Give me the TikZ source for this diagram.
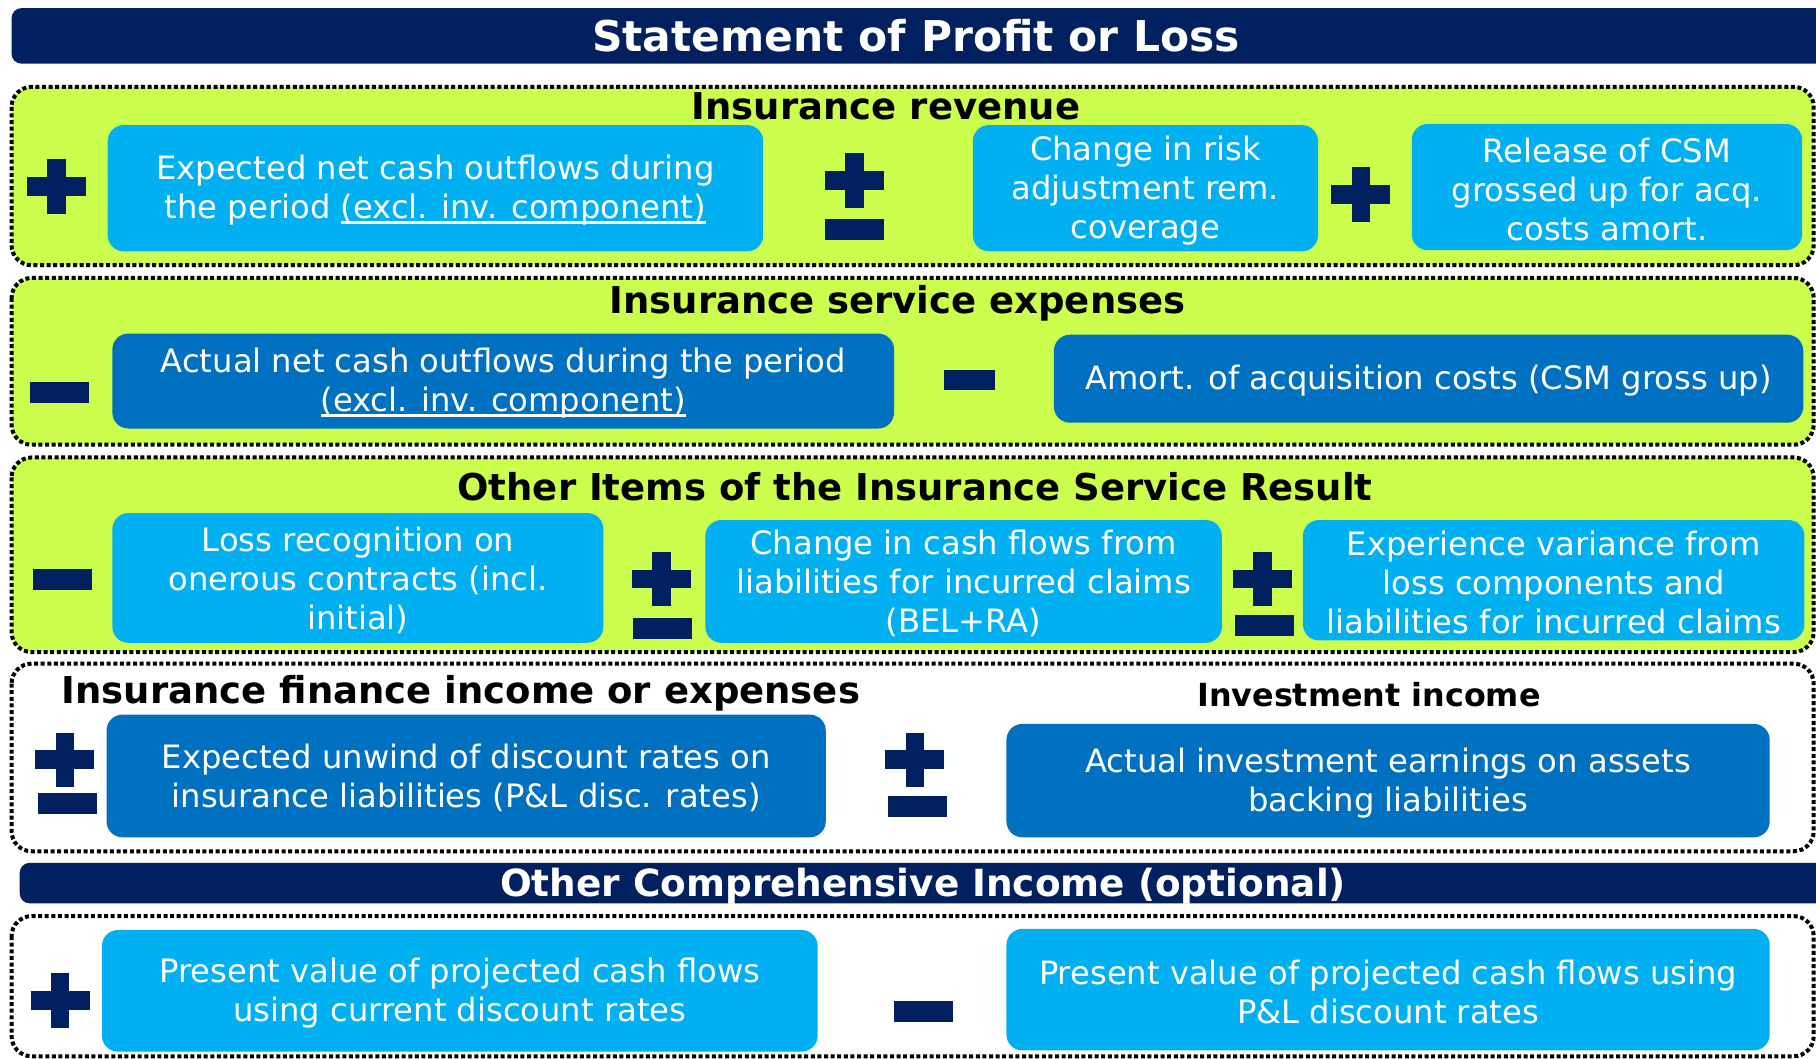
\documentclass[tikz,border=0pt]{standalone}
\usepackage{fontspec}
\setmainfont{DejaVu Sans}
\definecolor{navy}{HTML}{002060}
\definecolor{lblue}{HTML}{00B0F0}
\definecolor{dblue}{HTML}{0070C0}
\definecolor{lime}{HTML}{CCFF4D}
\newdimen\pu \pu=0.5791pt
\newcommand{\boxfont}{\fontsize{16.1}{19.4}\selectfont}
\newcommand{\hdrfont}{\fontsize{18.5}{22}\selectfont\bfseries}
\newcommand{\ulx}[1]{\setbox0=\hbox{#1}\rlap{\rule[-2.6pt]{\wd0}{1.3pt}}\box0}
\newcommand{\lowr}{\rule{0pt}{14.5pt}}
\begin{document}
\begin{tikzpicture}[x=0.5791pt,y=-0.5791pt,
  sect/.style={draw=black, line width=2pt, dash pattern=on 2pt off 1.3pt, rounded corners=10pt},
  lbox/.style={fill=lblue, rounded corners=8pt, text=white, font=\boxfont, align=center, inner sep=0pt},
  dbox/.style={fill=dblue, rounded corners=8pt, text=white, font=\boxfont, align=center, inner sep=0pt},
  hdr/.style={font=\hdrfont, text=black, inner sep=0pt},
  bar/.style={fill=navy, rounded corners=5pt},
  plussign/.pic={\fill[navy] (-25.5,-8) rectangle (25.5,8); \fill[navy] (-8,-23.5) rectangle (8,23.5);},
  minussign/.pic={\fill[navy] (-25.5,-9) rectangle (25.5,9);},
  minussmall/.pic={\fill[navy] (-22,-8.5) rectangle (22,8.5);}
]
\path[use as bounding box] (0,0) rectangle (1568,914);
\clip (0,0) rectangle (1568,914);
\fill[white] (0,0) rectangle (1568,914);

% title bar
\fill[bar] (10,7) rectangle (1600,55);
\node[font=\fontsize{21.2}{25}\selectfont\bfseries, text=white, inner sep=0pt] (title) at (791,31) {Statement of Profit or Loss};

% section 1
\path[sect, fill=lime] (10,75) rectangle (1566,229);
\node[hdr] (h1) at (765,92) {Insurance revenue};
\pic at (49,161) {plussign};
\node[lbox, minimum width=566\pu, minimum height=109\pu] (b1) at (376,162.5) {\lowr Expected net cash outflows during\\the period \ulx{(excl. inv. component)}};
\pic at (738,156) {plussign};
\pic at (738,198) {minussign};
\node[lbox, minimum width=298\pu, minimum height=109\pu] (b2) at (989,162.5) {\lowr Change in risk\\adjustment rem.\\coverage};
\pic at (1175,168) {plussign};
\node[lbox, minimum width=337\pu, minimum height=109\pu] (b3) at (1387.5,161.5) {\lowr Release of CSM\\grossed up for acq.\\costs amort.};

% section 2
\path[sect, fill=lime] (10,240) rectangle (1566,384);
\node[hdr] (h2) at (775,262) {Insurance service expenses};
\pic at (51,339) {minussign};
\node[dbox, minimum width=675\pu, minimum height=82\pu] (b4) at (434.5,329) {\lowr Actual net cash outflows during the period\\\ulx{(excl. inv. component)}};
\pic at (837,328) {minussmall};
\node[dbox, minimum width=647\pu, minimum height=76\pu] (b5) at (1233.5,327) {\lowr Amort. of acquisition costs (CSM gross up)};

% section 3
\path[sect, fill=lime] (10,395) rectangle (1566,563);
\node[hdr] (h3) at (790,420) {Other Items of the Insurance Service Result};
\pic at (54,500) {minussign};
\node[lbox, minimum width=424\pu, minimum height=112\pu] (b6) at (309,499) {\lowr Loss recognition on\\onerous contracts (incl.\\initial)};
\pic at (571,500) {plussign};
\pic at (572,543) {minussign};
\node[lbox, minimum width=446\pu, minimum height=106\pu] (b7) at (832,502) {\lowr Change in cash flows from\\liabilities for incurred claims\\(BEL+RA)};
\pic at (1090,500) {plussign};
\pic at (1092,540) {minussign};
\node[lbox, minimum width=433\pu, minimum height=104\pu] (b8) at (1341.5,501) {\lowr Experience variance from\\loss components and\\liabilities for incurred claims};

% section 4
\path[sect] (10,573) rectangle (1566,735);
\node[hdr] (h4) at (398,599) {Insurance finance income or expenses};
\node[font=\fontsize{15.9}{19}\selectfont\bfseries, text=black, inner sep=0pt] (h5) at (1182,600) {Investment income};
\pic at (56,656) {plussign};
\pic at (58,694) {minussign};
\node[dbox, minimum width=621\pu, minimum height=106\pu] (b9) at (402.5,670) {\lowr Expected unwind of discount rates on\\insurance liabilities (P\&L disc. rates)};
\pic at (790,656) {plussign};
\pic at (792,696) {minussign};
\node[dbox, minimum width=659\pu, minimum height=98\pu] (b10) at (1198.5,674) {\lowr Actual investment earnings on assets\\backing liabilities};

% OCI bar
\fill[bar] (17,745) rectangle (1600,780);
\node[font=\fontsize{18.7}{22}\selectfont\bfseries, text=white, inner sep=0pt] (oci) at (797,765) {Other Comprehensive Income (optional)};

% section 5
\path[sect] (10,791) rectangle (1566,912);
\pic at (52,864) {plussign};
\node[lbox, minimum width=618\pu, minimum height=105\pu] (b11) at (397,855.5) {\lowr Present value of projected cash flows\\using current discount rates};
\pic at (797,873) {minussign};
\node[lbox, minimum width=659\pu, minimum height=105\pu] (b12) at (1198.5,854.5) {\lowr Present value of projected cash flows using\\P\&L discount rates};
\end{tikzpicture}
\end{document}
